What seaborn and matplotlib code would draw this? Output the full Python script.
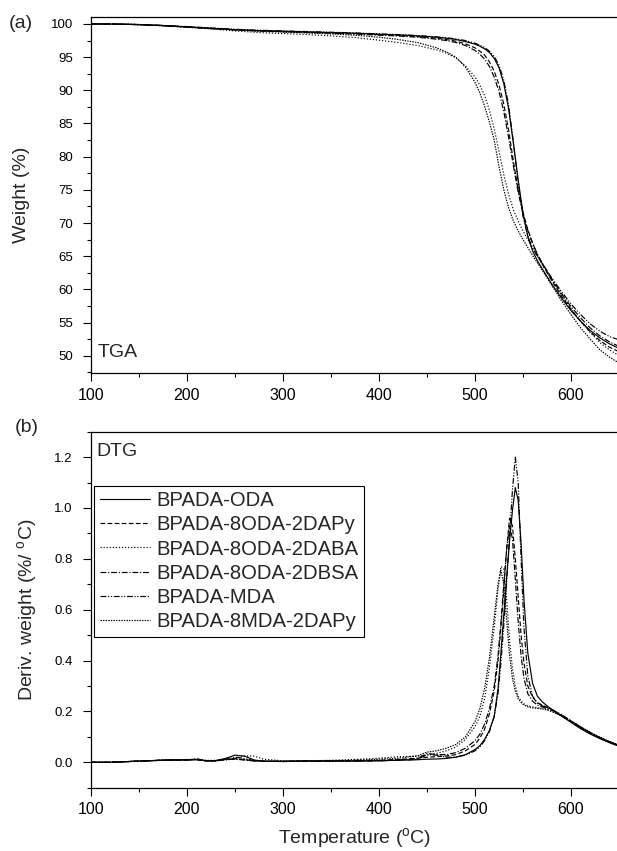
import numpy as np
import pandas as pd
import matplotlib
matplotlib.use("Agg")
import matplotlib.pyplot as plt
from matplotlib.ticker import MultipleLocator
import seaborn as sns

sns.set_style("ticks")
plt.rcParams["font.family"] = ["Liberation Sans", "DejaVu Sans"]
plt.rcParams["mathtext.default"] = "regular"

# ---- sample names and line styles ----
samples = ["BPADA-ODA", "BPADA-8ODA-2DAPy", "BPADA-8ODA-2DABA",
           "BPADA-8ODA-2DBSA", "BPADA-MDA", "BPADA-8MDA-2DAPy"]
dash_styles = ["", (4, 2), (1, 1.6), (5, 1.5, 1, 1.5), (5, 1.4, 1, 1.4, 1, 1.4), (1.2, 1.0)]

# ---- TGA: weight (%) vs temperature (°C) ----
t_tga = [100, 125, 150, 175, 200, 225, 250, 275, 300, 325, 350, 375, 400, 420, 440,
         460, 470, 480, 490, 500, 505, 510, 515, 520, 525, 530, 535, 540, 545, 550,
         555, 560, 565, 570, 580, 590, 600, 610, 620, 630, 640, 650]
w_oda = [100.0, 99.98, 99.9, 99.75, 99.55, 99.35, 99.15, 99.0, 98.9, 98.8, 98.7, 98.6, 98.45, 98.35, 98.2,
         98.0, 97.85, 97.65, 97.35, 96.95, 96.65, 96.25, 95.7, 94.8, 93.4, 91.0, 87.2, 82.0, 76.5, 71.5,
         68.0, 65.8, 64.3, 63.1, 60.8, 58.7, 56.8, 55.2, 53.8, 52.7, 51.8, 51.1]
w_oda_dapy = [100.0, 99.98, 99.9, 99.75, 99.55, 99.32, 99.12, 98.97, 98.86, 98.76, 98.66, 98.55, 98.4, 98.28, 98.1,
              97.85, 97.65, 97.4, 97.0, 96.4, 95.9, 95.3, 94.3, 92.9, 90.8, 87.9, 84.0, 79.3, 75.0, 71.6,
              69.0, 67.0, 65.2, 63.8, 61.3, 59.0, 57.0, 55.2, 53.6, 52.3, 51.3, 50.6]
w_oda_daba = [100.0, 99.98, 99.88, 99.72, 99.5, 99.25, 98.95, 98.7, 98.55, 98.4, 98.2, 97.95, 97.55, 97.2, 96.75,
              96.1, 95.6, 94.9, 93.7, 92.0, 90.8, 89.2, 87.0, 84.2, 80.8, 77.3, 74.3, 72.0, 70.3, 68.8,
              67.5, 66.2, 65.0, 63.8, 61.4, 59.2, 57.1, 55.2, 53.5, 52.0, 50.9, 50.0]
w_oda_dbsa = [100.0, 99.98, 99.9, 99.74, 99.52, 99.3, 99.1, 98.95, 98.83, 98.72, 98.6, 98.48, 98.3, 98.18, 98.0,
              97.7, 97.5, 97.2, 96.75, 96.0, 95.45, 94.7, 93.6, 92.0, 89.8, 86.8, 82.9, 78.6, 74.6, 71.4,
              68.9, 66.9, 65.3, 64.0, 61.6, 59.4, 57.4, 55.7, 54.2, 53.0, 52.1, 51.4]
w_mda = [100.0, 99.98, 99.92, 99.78, 99.6, 99.4, 99.2, 99.05, 98.95, 98.85, 98.75, 98.65, 98.5, 98.4, 98.25,
         98.05, 97.92, 97.75, 97.5, 97.1, 96.8, 96.45, 95.9, 95.1, 93.8, 91.5, 87.8, 82.2, 76.0, 71.0,
         68.0, 66.2, 65.0, 63.9, 61.7, 59.7, 57.8, 56.2, 54.8, 53.7, 52.9, 52.4]
w_mda_dapy = [100.0, 99.98, 99.9, 99.75, 99.55, 99.3, 99.08, 98.9, 98.78, 98.65, 98.5, 98.3, 98.0, 97.65, 97.2,
              96.4, 95.8, 95.0, 93.5, 91.2, 89.6, 87.6, 85.2, 82.5, 78.5, 75.0, 72.3, 70.3, 68.8, 67.5,
              66.3, 65.1, 64.0, 62.9, 60.6, 58.3, 56.2, 54.2, 52.5, 50.9, 49.8, 48.9]

# ---- DTG: derivative weight (%/°C) vs temperature (°C) ----
t_dtg = [100, 120, 140, 160, 180, 200, 210, 220, 230, 240, 250, 260, 270, 280, 300, 320, 340, 360, 380, 400,
         420, 440, 450, 460, 470, 480, 490, 500, 505, 510, 515, 520, 524, 527, 530, 533, 536, 539, 542, 545,
         548, 551, 555, 560, 565, 570, 575, 580, 590, 600, 610, 620, 630, 640, 650]
d_oda = [0.0, 0.0, 0.003, 0.006, 0.009, 0.009, 0.01, 0.006, 0.007, 0.015, 0.028, 0.024, 0.009, 0.004, 0.004,
         0.005, 0.005, 0.005, 0.005, 0.006, 0.008, 0.01,
         0.012, 0.013, 0.015, 0.02, 0.03, 0.05, 0.065, 0.09, 0.125, 0.18, 0.29, 0.43, 0.58, 0.73, 0.87, 0.99,
         1.08, 1.03, 0.86, 0.64, 0.43, 0.31, 0.26, 0.238, 0.222, 0.208, 0.182, 0.157, 0.132, 0.111, 0.093,
         0.077, 0.063]
d_oda_dapy = [0.0, 0.0, 0.003, 0.006, 0.009, 0.009, 0.012, 0.005, 0.006, 0.012, 0.014, 0.01, 0.006, 0.004, 0.003,
              0.005, 0.005, 0.005, 0.006, 0.008, 0.011, 0.016,
              0.02, 0.022, 0.025, 0.03, 0.045, 0.07, 0.095, 0.13, 0.19, 0.28, 0.4, 0.53, 0.68, 0.84, 0.96, 0.93,
              0.8, 0.65, 0.5, 0.39, 0.3, 0.255, 0.235, 0.225, 0.216, 0.207, 0.184, 0.16, 0.135, 0.114, 0.095,
              0.079, 0.065]
d_oda_daba = [0.0, 0.0, 0.003, 0.006, 0.009, 0.01, 0.011, 0.008, 0.007, 0.01, 0.016, 0.025, 0.024, 0.012, 0.006,
              0.006, 0.007, 0.009, 0.012, 0.016, 0.022, 0.024,
              0.028, 0.035, 0.045, 0.06, 0.09, 0.14, 0.18, 0.25, 0.37, 0.53, 0.68, 0.77, 0.76, 0.64, 0.48, 0.37,
              0.3, 0.26, 0.24, 0.23, 0.222, 0.218, 0.215, 0.213, 0.208, 0.2, 0.182, 0.16, 0.137, 0.115, 0.096,
              0.079, 0.065]
d_oda_dbsa = [0.0, 0.0, 0.003, 0.006, 0.008, 0.009, 0.014, 0.006, 0.005, 0.01, 0.012, 0.009, 0.005, 0.004, 0.003,
              0.004, 0.004, 0.005, 0.005, 0.006, 0.009, 0.014,
              0.035, 0.03, 0.03, 0.038, 0.055, 0.085, 0.11, 0.15, 0.21, 0.3, 0.42, 0.55, 0.7, 0.84, 0.93, 0.88,
              0.72, 0.55, 0.42, 0.33, 0.27, 0.24, 0.225, 0.218, 0.212, 0.205, 0.185, 0.162, 0.138, 0.116, 0.097,
              0.08, 0.066]
d_mda = [0.0, 0.0, 0.003, 0.006, 0.009, 0.009, 0.01, 0.005, 0.005, 0.012, 0.02, 0.015, 0.006, 0.004, 0.003,
         0.004, 0.004, 0.005, 0.005, 0.006, 0.008, 0.011,
         0.03, 0.028, 0.02, 0.02, 0.028, 0.045, 0.06, 0.085, 0.12, 0.18, 0.27, 0.39, 0.54, 0.71, 0.89, 1.07,
         1.2, 1.1, 0.8, 0.53, 0.34, 0.26, 0.232, 0.222, 0.215, 0.208, 0.188, 0.163, 0.139, 0.117, 0.098,
         0.081, 0.067]
d_mda_dapy = [0.0, 0.0, 0.003, 0.006, 0.009, 0.01, 0.012, 0.006, 0.006, 0.01, 0.013, 0.01, 0.006, 0.004, 0.004,
              0.005, 0.006, 0.007, 0.009, 0.012, 0.016, 0.025,
              0.04, 0.045, 0.055, 0.07, 0.1, 0.16, 0.21, 0.29, 0.41, 0.57, 0.7, 0.755, 0.7, 0.56, 0.42, 0.33,
              0.28, 0.25, 0.235, 0.225, 0.218, 0.214, 0.212, 0.21, 0.206, 0.2, 0.183, 0.162, 0.14, 0.118, 0.099,
              0.082, 0.068]

tga_values = [w_oda, w_oda_dapy, w_oda_daba, w_oda_dbsa, w_mda, w_mda_dapy]
dtg_values = [d_oda, d_oda_dapy, d_oda_daba, d_oda_dbsa, d_mda, d_mda_dapy]

tga = pd.concat([pd.DataFrame({"T": t_tga, "y": v, "sample": s})
                 for s, v in zip(samples, tga_values)], ignore_index=True)
dtg = pd.concat([pd.DataFrame({"T": t_dtg, "y": v, "sample": s})
                 for s, v in zip(samples, dtg_values)], ignore_index=True)

palette = {s: "black" for s in samples}
dashes = dict(zip(samples, dash_styles))

fig = plt.figure(figsize=(6.17, 8.51), dpi=100)
W, H = 617.0, 851.0
ax1 = fig.add_axes([91 / W, 1 - 373 / H, 528 / W, (373 - 17.3) / H])
ax2 = fig.add_axes([91 / W, 1 - 787.7 / H, 528 / W, (787.7 - 431.7) / H])

for ax, df in ((ax1, tga), (ax2, dtg)):
    sns.lineplot(data=df, x="T", y="y", hue="sample", style="sample",
                 hue_order=samples, style_order=samples, palette=palette,
                 dashes=dashes, estimator=None, sort=False, linewidth=0.85, ax=ax)

ax1.set_xlim(100, 650)
ax1.set_ylim(47.4, 101.0)
ax2.set_xlim(100, 650)
ax2.set_ylim(-0.1, 1.3)

ax1.yaxis.set_major_locator(MultipleLocator(5))
ax1.yaxis.set_minor_locator(MultipleLocator(2.5))
ax2.yaxis.set_major_locator(MultipleLocator(0.2))
ax2.yaxis.set_minor_locator(MultipleLocator(0.1))
ax2.yaxis.set_major_formatter(matplotlib.ticker.FormatStrFormatter("%.1f"))
for ax in (ax1, ax2):
    ax.xaxis.set_major_locator(MultipleLocator(100))
    ax.xaxis.set_minor_locator(MultipleLocator(50))
    for sp in ax.spines.values():
        sp.set_visible(True)
        sp.set_linewidth(0.9)
        sp.set_color("black")
    ax.tick_params(which="both", direction="out", top=False, right=False, width=0.8, colors="black")
    ax.tick_params(which="major", length=5.5)
    ax.tick_params(which="minor", length=3.2)
    ax.tick_params(axis="x", labelsize=11.5, pad=5)
    ax.tick_params(axis="y", labelsize=9.5, pad=7.5)
    ax.set_xlabel("")

ax1.set_ylabel("Weight (%)", fontsize=14)
ax1.yaxis.set_label_coords(-(91 - 22) / 528, 0.5)
ax1.yaxis.label.set_va("center")
ax2.set_ylabel("Deriv. weight (%/ $^{o}$C)", fontsize=14)
ax2.yaxis.set_label_coords(-(91 - 27) / 528, 0.5)
ax2.yaxis.label.set_va("center")
ax2.set_xlabel("Temperature ($^{o}$C)", fontsize=14)
ax2.xaxis.set_label_coords(0.5, -(838.5 - 787.7) / 356)
ax2.xaxis.label.set_va("center")

ax1.get_legend().remove()
handles, labels = ax2.get_legend_handles_labels()
ax2.get_legend().remove()
leg = ax2.legend(handles, labels, loc="upper left",
                 bbox_to_anchor=(0.00625, 1 - (485.7 - 431.7) / 356),
                 fontsize=14.6, frameon=True, fancybox=False, framealpha=1,
                 edgecolor="black", handlelength=2.5, handletextpad=0.3,
                 labelspacing=0.26, borderpad=0.26, borderaxespad=0)
leg.get_frame().set_linewidth(0.8)

ax1.text((118 - 91) / 528, (373 - 352.6) / (373 - 17.3), "TGA", transform=ax1.transAxes,
         fontsize=14, ha="center", va="center")
ax2.text((117 - 91) / 528, (787.7 - 451.5) / 356, "DTG", transform=ax2.transAxes,
         fontsize=14, ha="center", va="center")
fig.text(21 / W, 1 - 24 / H, "(a)", fontsize=14, ha="center", va="center")
fig.text(26.5 / W, 1 - 427.5 / H, "(b)", fontsize=14, ha="center", va="center")

fig.savefig("out.png", dpi=100)
